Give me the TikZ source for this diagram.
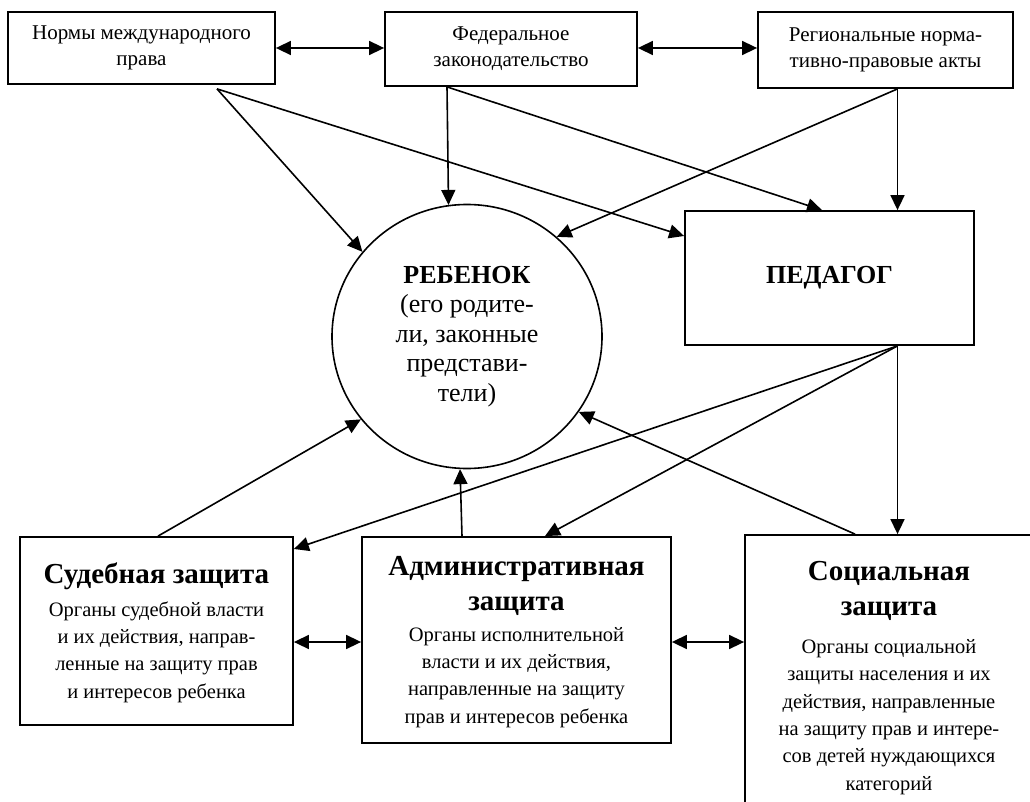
\documentclass[tikz,border=0pt]{standalone}
\usepackage{fontspec}
\setmainfont{Liberation Serif}
\usetikzlibrary{arrows.meta,shapes.geometric,calc}
\begin{document}
\begin{tikzpicture}[x=1pt,y=-1pt,
  box/.style={draw, line width=1.8pt, inner sep=0pt, align=center},
  topfont/.style={font=\fontsize{21}{26}\selectfont},
  headfont/.style={font=\bfseries\fontsize{29}{35}\selectfont, align=center, inner sep=0pt, anchor=base},
  bodyfont/.style={font=\fontsize{20.5}{27.3}\selectfont, align=center, inner sep=0pt, anchor=base},
  conn/.style={line width=1.6pt, -{Triangle[length=15pt,width=14pt]}},
  both/.style={line width=1.6pt, {Triangle[length=15pt,width=14pt]}-{Triangle[length=15pt,width=14pt]}}]
\useasboundingbox (0,0) rectangle (1030,802);
\fill[white] (0,0) rectangle (1030,802);
\clip (0,0) rectangle (1030,802);

% top boxes
\node[box, topfont, minimum width=267pt, minimum height=72pt] (b1) at (141.5,48) {Нормы международного\\права};
\node[box, topfont, minimum width=252pt, minimum height=74pt] (b2) at (511,49) {Федеральное\\законодательство};
\node[box, topfont, minimum width=255pt, minimum height=76pt] (b3) at (885.5,50) {Региональные норма-\\тивно-правовые акты};

% child
\node[draw, ellipse, line width=1.6pt, minimum width=270pt, minimum height=264pt, inner sep=0pt, align=center,
      font=\fontsize{26}{29.5}\selectfont] (child) at (467,336.5)
      {\textbf{РЕБЕНОК}\\(его родите-\\ли, законные\\представи-\\тели)};

% pedagog
\node[box, minimum width=289pt, minimum height=134pt, font=\bfseries\fontsize{26}{30}\selectfont] (ped) at (829.5,278) {ПЕДАГОГ};

% bottom boxes
\node[box, minimum width=273pt, minimum height=188pt] (sud) at (156.5,631) {};
\node[box, minimum width=309pt, minimum height=206pt] (adm) at (516.5,640) {};
\node[box, minimum width=288pt, minimum height=300pt] (soc) at (889,685) {};

% texts (anchor base = baseline of the last line)
\node[headfont] (sudH) at (156.5,583) {Судебная защита};
\node[bodyfont] (sudB) at (156.5,698) {Органы судебной власти\\и их действия, направ-\\ленные на защиту прав\\и интересов ребенка};
\node[headfont] (admH) at (516.5,610) {Административная\\защита};
\node[bodyfont] (admB) at (516.5,723) {Органы исполнительной\\власти и их действия,\\направленные на защиту\\прав и интересов ребенка};
\node[headfont] (socH) at (889,615) {Социальная\\защита};
\node[bodyfont] (socB) at (889,790) {Органы социальной\\защиты населения и их\\действия, направленные\\на защиту прав и интере-\\сов детей нуждающихся\\категорий};

% connectors
\coordinate (b1o) at ($(b1.south -| 217,0)+(0,4)$);
\draw[conn] (b1o) -- (child.141.8);
\draw[conn] (b1o) -- (ped.west |- 0,236);
\draw[conn] (b2.south -| 447,0) -- (child.98.6);
\draw[conn] (b2.south -| 447,0) -- (ped.north -| 822,0);
\draw[conn] (b3.south -| 897.5,0) -- (child.48.4);
\draw[conn] (b3.south -| 897.5,0) -- (ped.north -| 897.5,0);
\draw[conn] (ped.south -| 897.5,0) -- (sud.east |- 0,549);
\draw[conn] (ped.south -| 897.5,0) -- (adm.north -| 545,0);
\draw[conn] (ped.south -| 897.5,0) -- (soc.north -| 897.5,0);
\draw[conn] (soc.north -| 855,0) -- (child.-34.5);
\draw[conn] (sud.north -| 158,0) -- (child.218.9);
\draw[conn] (adm.north -| 462,0) -- (child.267.9);
\draw[both] (sud.east |- 0,642) -- (adm.west |- 0,642);
\draw[both] (adm.east |- 0,642) -- (soc.west |- 0,642);
\draw[both] (b1.east |- 0,48) -- (b2.west |- 0,48);
\draw[both] (b2.east |- 0,48) -- (b3.west |- 0,48);
\end{tikzpicture}
\end{document}
